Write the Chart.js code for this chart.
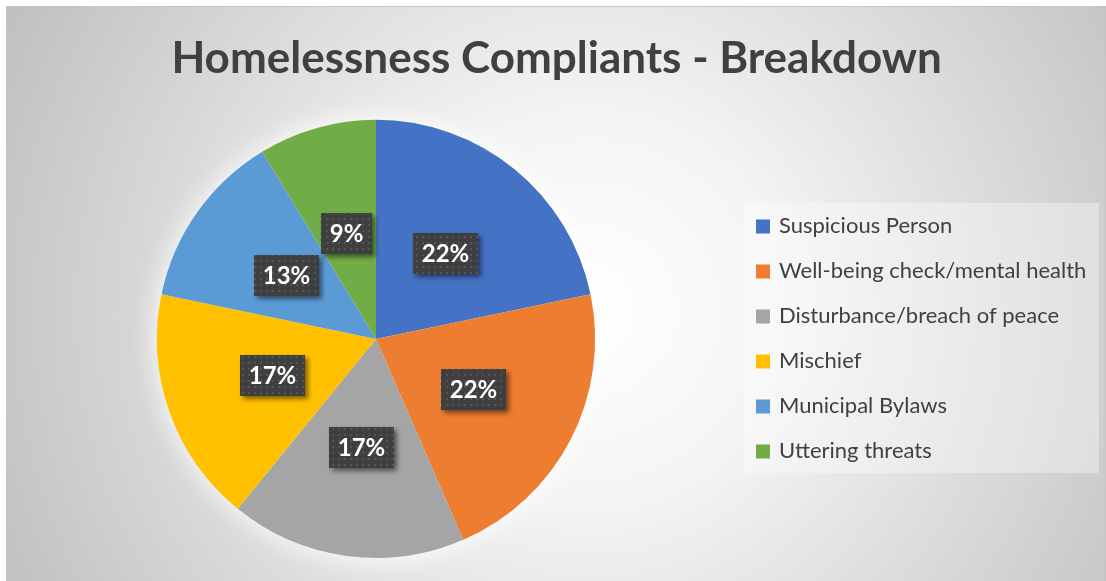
<!DOCTYPE html>
<html><head><meta charset="utf-8">
<script src="https://cdn.jsdelivr.net/npm/chart.js@4/dist/chart.umd.min.js"></script>
<style>html,body{margin:0;padding:0;background:#fff;overflow:hidden}canvas{display:block}</style>
</head><body>
<canvas id="c" width="1106" height="581"></canvas>
<script>
const titleText = 'Homelessness Compliants - Breakdown';
const categories = ['Suspicious Person','Well-being check/mental health','Disturbance/breach of peace','Mischief','Municipal Bylaws','Uttering threats'];
const counts = [5, 5, 4, 4, 3, 2];
const percentLabels = ['22%','22%','17%','17%','13%','9%'];
const colors = ['#4472C4','#ED7D31','#A5A5A5','#FFC000','#5B9BD5','#70AD47'];

const W = 1106, H = 581;
const FONT = 'Lato, "Open Sans", sans-serif';
const legendFontSize = 22, legendPad = 23, legendBox = 10;

const mctx = document.createElement('canvas').getContext('2d');
mctx.font = legendFontSize + 'px ' + FONT;
const maxTextW = Math.max(...categories.map(t => mctx.measureText(t).width));
const legendWidth = legendPad + legendBox + legendFontSize / 2 + maxTextW + 10;
const legendLeft = 735;
const padLeft = 2 * 376 - legendLeft;
const padRight = Math.max(0, W - legendLeft - legendWidth);

// dotted pattern for label boxes
const pc = document.createElement('canvas'); pc.width = 6; pc.height = 6;
const pctx = pc.getContext('2d');
pctx.fillStyle = '#3f3f3f'; pctx.fillRect(0,0,6,6);
pctx.fillStyle = '#545454'; pctx.fillRect(2,2,2,2);

const bgPlugin = {
  id: 'bg',
  beforeDraw(chart) {
    const ctx = chart.ctx;
    ctx.save();
    ctx.fillStyle = '#ffffff';
    ctx.fillRect(0, 0, W, H);
    const g = ctx.createRadialGradient(590, 310, 0, 590, 310, 650);
    g.addColorStop(0, '#ffffff');
    g.addColorStop(0.3, '#f4f4f4');
    g.addColorStop(1, '#c0c0c0');
    ctx.fillStyle = g;
    ctx.fillRect(7, 7, 1098, H - 7);
    ctx.strokeStyle = '#c4c4c4';
    ctx.lineWidth = 1;
    ctx.strokeRect(6.5, 6.5, 1099, H);
    // legend panel
    const lg = chart.legend;
    if (lg) {
      const colH = categories.length * (legendFontSize + legendPad);
      const firstY = (lg.top + legendPad + lg.bottom - colH) / 2;
      ctx.fillStyle = 'rgba(255,255,255,0.35)';
      ctx.fillRect(lg.left + 9, firstY - 12.5, 1099 - lg.left - 9, colH);
    }
    ctx.restore();
  },
  beforeDatasetsDraw(chart) {
    const arc = chart.getDatasetMeta(0).data[0];
    if (!arc) return;
    const {x, y, outerRadius} = arc.getProps(['x','y','outerRadius'], true);
    const ctx = chart.ctx;
    ctx.save();
    ctx.shadowColor = 'rgba(255,255,255,1)';
    ctx.shadowBlur = 28;
    ctx.fillStyle = '#ffffff';
    ctx.beginPath(); ctx.arc(x, y, outerRadius, 0, Math.PI * 2); ctx.fill();
    ctx.restore();
  },
  afterDatasetsDraw(chart) {
    const ctx = chart.ctx;
    const pattern = ctx.createPattern(pc, 'repeat');
    chart.getDatasetMeta(0).data.forEach((arc, i) => {
      const {x, y, startAngle, endAngle, outerRadius} = arc.getProps(['x','y','startAngle','endAngle','outerRadius'], true);
      const mid = (startAngle + endAngle) / 2;
      const r = outerRadius * 0.5;
      const cx = x + Math.cos(mid) * r, cy = y + Math.sin(mid) * r;
      ctx.save();
      ctx.font = 'bold 24px ' + FONT;
      const tw = ctx.measureText(percentLabels[i]).width;
      const bw = Math.round(tw + 17), bh = 41;
      const bx = Math.round(cx - bw / 2), by = Math.round(cy - bh / 2);
      ctx.shadowColor = 'rgba(0,0,0,0.5)';
      ctx.shadowBlur = 5; ctx.shadowOffsetX = 3; ctx.shadowOffsetY = 3;
      ctx.fillStyle = pattern;
      ctx.fillRect(bx, by, bw, bh);
      ctx.shadowColor = 'transparent';
      ctx.fillStyle = '#ffffff';
      ctx.textAlign = 'center'; ctx.textBaseline = 'middle';
      ctx.fillText(percentLabels[i], bx + bw / 2, by + bh / 2 + 1);
      ctx.restore();
    });
  }
};

new Chart(document.getElementById('c'), {
  type: 'pie',
  data: {
    labels: categories,
    datasets: [{ data: counts, backgroundColor: colors, borderWidth: 0, hoverOffset: 0 }]
  },
  options: {
    responsive: false,
    animation: false,
    devicePixelRatio: 1,
    layout: { padding: { top: 10, left: padLeft, right: padRight, bottom: 23 } },
    plugins: {
      title: {
        display: true, text: titleText, color: '#404040',
        font: { family: FONT, size: 44, weight: 'bold', lineHeight: 1.2 },
        padding: { top: 22, bottom: 35 }
      },
      legend: {
        position: 'right', align: 'center', fullSize: false,
        labels: {
          color: '#404040', boxWidth: legendBox, boxHeight: legendBox, padding: legendPad,
          font: { family: FONT, size: legendFontSize },
          generateLabels: (chart) => categories.map((t, i) => ({
            text: t, fillStyle: colors[i], strokeStyle: colors[i], lineWidth: 4,
            hidden: false, index: i, fontColor: '#404040'
          }))
        }
      },
      tooltip: { enabled: false }
    }
  },
  plugins: [bgPlugin]
});
</script>
</body></html>
